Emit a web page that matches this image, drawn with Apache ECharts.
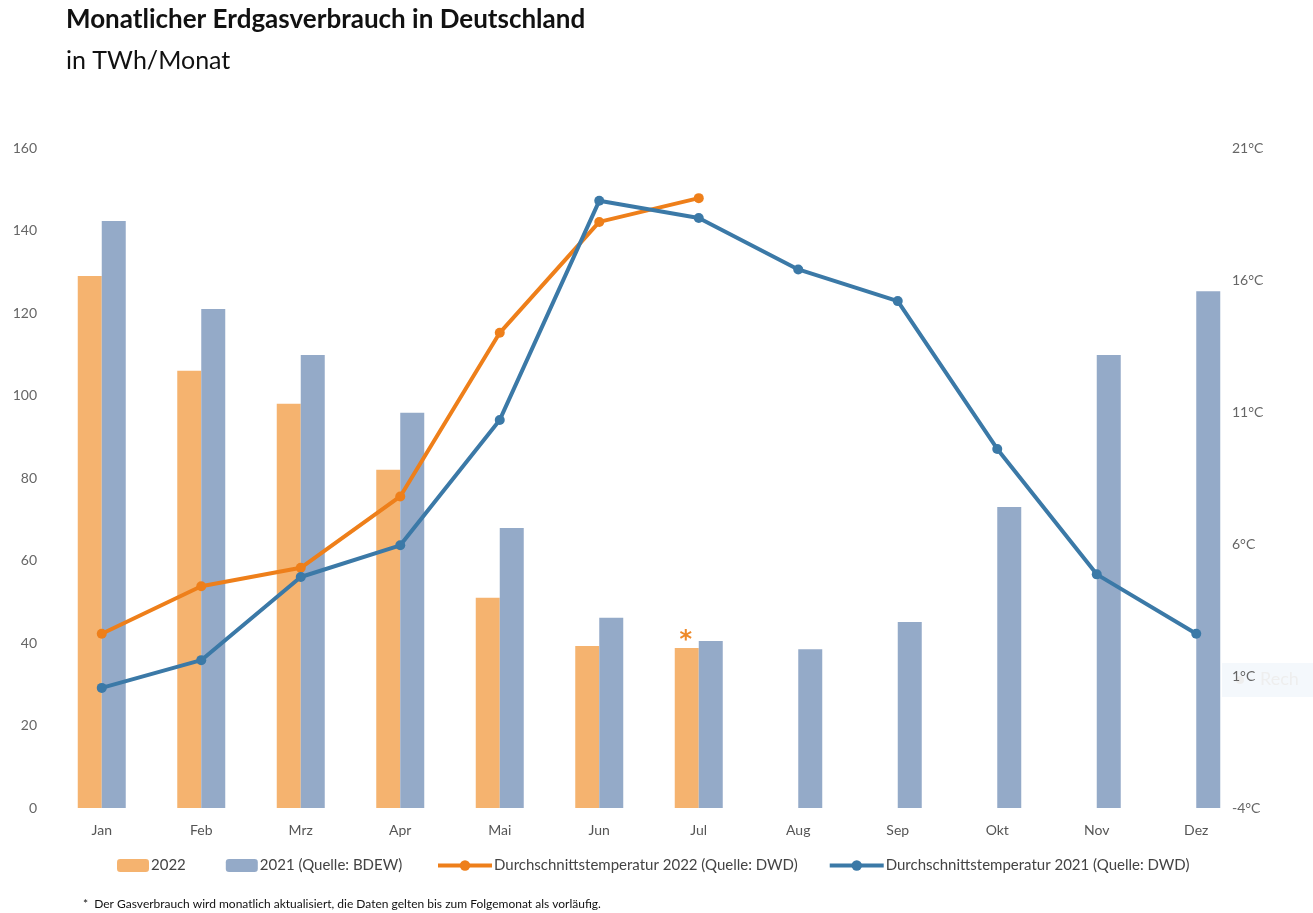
<!DOCTYPE html>
<html>
<head>
<meta charset="utf-8">
<script src="https://cdn.jsdelivr.net/npm/echarts@6/dist/echarts.min.js"></script>
<style>
  html, body { margin: 0; padding: 0; background: #fff; }
  #chart { width: 1313px; height: 913px; }
</style>
</head>
<body>
<div id="chart"></div>
<script>
// Monate
const months = ['Jan', 'Feb', 'Mrz', 'Apr', 'Mai', 'Jun', 'Jul', 'Aug', 'Sep', 'Okt', 'Nov', 'Dez'];
// Gasverbrauch TWh/Monat
const gas2022 = [129, 106, 98, 82, 51, 39.3, 38.8, null, null, null, null, null];
const gas2021 = [142.3, 121, 109.8, 95.8, 67.9, 46.1, 40.5, 38.5, 45.1, 73, 109.8, 125.3];
// Durchschnittstemperatur °C
const temp2022 = [2.6, 4.4, 5.1, 7.8, 14.0, 18.2, 19.1, null, null, null, null, null];
const temp2021 = [0.55, 1.6, 4.75, 5.95, 10.7, 19.0, 18.35, 16.4, 15.2, 9.6, 4.85, 2.6];

const font = 'Lato, "Open Sans", sans-serif';
const chart = echarts.init(document.getElementById('chart'));

const legendText = { fontSize: 15, color: '#444', padding: [0, 0, 0, -3] };

const option = {
  animation: false,
  textStyle: { fontFamily: font },
  title: [
    {
      text: 'Monatlicher Erdgasverbrauch in Deutschland',
      left: 66, top: 7, padding: 0,
      textStyle: { fontSize: 26, fontWeight: 'bold', color: '#111', fontFamily: font }
    },
    {
      text: 'in TWh/Monat',
      left: 66, top: 48, padding: 0,
      textStyle: { fontSize: 25, fontWeight: 'normal', color: '#111', fontFamily: font }
    },
    {
      text: '*  Der Gasverbrauch wird monatlich aktualisiert, die Daten gelten bis zum Folgemonat als vorläufig.',
      left: 83, top: 898, padding: 0,
      textStyle: { fontSize: 12, fontWeight: 'normal', color: '#111', fontFamily: font }
    }
  ],
  legend: [
    {
      left: 117, top: 858, padding: 0,
      itemWidth: 32, itemHeight: 13, itemGap: 40,
      textStyle: legendText,
      data: ['2022', '2021 (Quelle: BDEW)']
    },
    {
      left: 436, top: 858, padding: 0,
      itemWidth: 54, itemHeight: 13, itemGap: 30,
      textStyle: legendText,
      lineStyle: { width: 4 },
      data: ['Durchschnittstemperatur 2022 (Quelle: DWD)', 'Durchschnittstemperatur 2021 (Quelle: DWD)']
    }
  ],
  grid: { left: 52, right: 67, top: 148, bottom: 105 },
  xAxis: {
    type: 'category',
    data: months,
    axisLine: { show: false },
    axisTick: { show: false },
    axisLabel: { color: '#555', fontSize: 14, margin: 15 }
  },
  yAxis: [
    {
      type: 'value', min: 0, max: 160, interval: 20,
      splitLine: { show: false },
      axisLine: { show: false },
      axisTick: { show: false },
      axisLabel: { color: '#666', fontSize: 14, margin: 15 }
    },
    {
      type: 'value', min: -4, max: 21, interval: 5,
      position: 'right',
      splitLine: { show: false },
      axisLine: { show: false },
      axisTick: { show: false },
      axisLabel: { color: '#666', fontSize: 14, margin: -14, formatter: '{value}°C' }
    }
  ],
  graphic: [
    {
      type: 'group', left: 1222, top: 663, z: -1,
      children: [
        { type: 'rect', shape: { x: 0, y: 0, width: 91, height: 34 }, style: { fill: '#F4F8FC' } },
        { type: 'circle', shape: { cx: 18, cy: 17, r: 4 }, style: { fill: '#EEEEEE' } },
        { type: 'text', style: { text: 'Rech', x: 38, y: 7, fill: '#EEEEEE', font: '18px ' + font } }
      ]
    }
  ],
  series: [
    {
      name: '2022', type: 'bar',
      data: gas2022.map((v, i) => i === 6
        ? { value: v, label: { show: true, position: 'top', formatter: '*', color: '#EE8A2A', fontFamily: 'DejaVu Sans', fontWeight: 'bold', fontSize: 24, offset: [-1, 10] } }
        : v),
      barWidth: 24, barGap: '0%',
      itemStyle: { color: '#F5B36F' }
    },
    {
      name: '2021 (Quelle: BDEW)', type: 'bar',
      data: gas2021,
      barWidth: 24,
      itemStyle: { color: '#94AAC8' }
    },
    {
      name: 'Durchschnittstemperatur 2022 (Quelle: DWD)', type: 'line',
      yAxisIndex: 1, data: temp2022,
      symbol: 'circle', symbolSize: 10,
      lineStyle: { width: 4, color: '#EE7F1A' },
      itemStyle: { color: '#EE7F1A' }
    },
    {
      name: 'Durchschnittstemperatur 2021 (Quelle: DWD)', type: 'line',
      yAxisIndex: 1, data: temp2021,
      symbol: 'circle', symbolSize: 10,
      lineStyle: { width: 4, color: '#3B79A7' },
      itemStyle: { color: '#3B79A7' }
    }
  ]
};
chart.setOption(option);
</script>
</body>
</html>
